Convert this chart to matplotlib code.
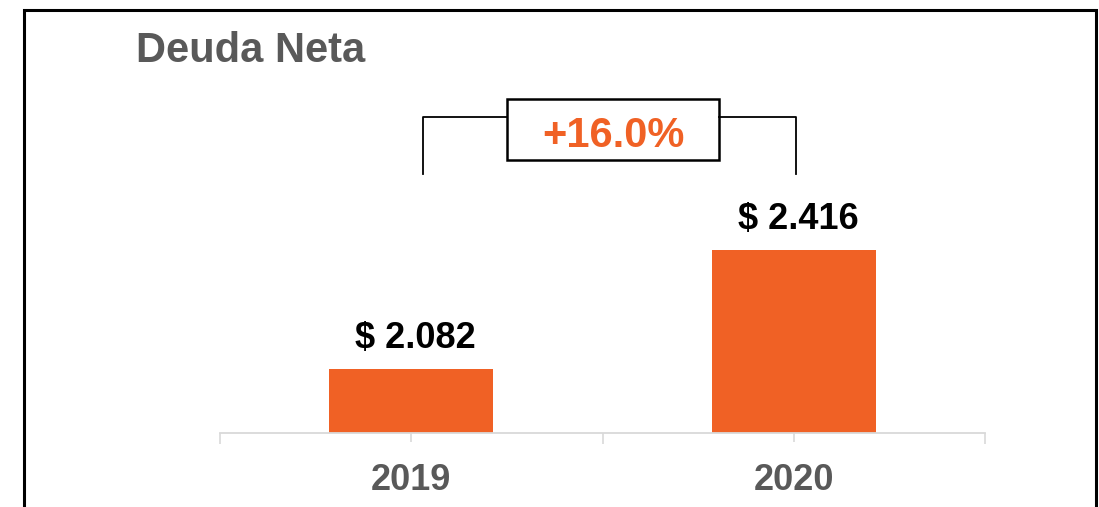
import matplotlib
matplotlib.use("Agg")
import matplotlib.pyplot as plt
from matplotlib.patches import Rectangle

plt.rcParams['font.family'] = ['Liberation Sans', 'DejaVu Sans']

# data
years = ['2019', '2020']
deuda = [2082, 2416]
value_labels = ['$ 2.082', '$ 2.416']
growth_label = '+16.0%'

orange = '#F06125'
gray = '#595959'
axis_gray = '#D9D9D9'

W, H = 1099, 507
fig = plt.figure(figsize=(W / 100, H / 100), dpi=100)

# axes placed by pixel box (left 220, right 985, baseline 433, top 90)
ax = fig.add_axes([220 / W, (H - 433) / H, 765 / W, (433 - 90) / H])
x = list(range(len(years)))
ax.bar(x, deuda, width=0.43, color=orange, zorder=2)
ax.set_xlim(-0.5, len(years) - 0.5)
ax.set_ylim(1902, 2865)

for i, v in enumerate(deuda):
    ax.annotate(value_labels[i], (i, v), xytext=(3, 15), textcoords='offset points',
                ha='center', va='baseline', fontsize=26, fontweight='bold', color='black')

# axis styling
for s in ['top', 'right', 'left']:
    ax.spines[s].set_visible(False)
ax.spines['bottom'].set_color(axis_gray)
ax.spines['bottom'].set_linewidth(1.3)
ax.set_yticks([])
ax.set_xticks(x)
ax.set_xticklabels(years, fontsize=26, fontweight='bold', color=gray)
ax.set_xticks([-0.5, 0.5, 1.5], minor=True)
ax.tick_params(axis='x', which='major', length=6.5, width=1.2, color=axis_gray, pad=15)
ax.tick_params(axis='x', which='minor', length=8, width=1.2, color=axis_gray)

# growth bracket
leg_l, leg_r = 0.03, 1.005
br_top, br_bot = 2790, 2630
box_x0, box_x1 = 0.25, 0.805
box_y0, box_y1 = 2669, 2839
ax.plot([leg_l, leg_l, box_x0], [br_bot, br_top, br_top], color='black', lw=1.3, clip_on=False)
ax.plot([box_x1, leg_r, leg_r], [br_top, br_top, br_bot], color='black', lw=1.3, clip_on=False)
ax.add_patch(Rectangle((box_x0, box_y0), box_x1 - box_x0, box_y1 - box_y0,
                       fill=False, edgecolor='black', lw=1.8, clip_on=False))
ax.text((box_x0 + box_x1) / 2, 2706, growth_label, ha='center', va='baseline',
        fontsize=30, fontweight='bold', color=orange)

# title
fig.text(136 / W, (H - 61.7) / H, 'Deuda Neta', ha='left', va='baseline',
         fontsize=30, fontweight='bold', color=gray)

# outer frame (bottom edge runs off the image)
fig.patches.append(Rectangle((23.5 / W, -0.1), (1096 - 23.5) / W, 1.1 - 9.5 / H,
                             transform=fig.transFigure, fill=False, edgecolor='black',
                             lw=2.2, clip_on=False))

fig.savefig('out.png', dpi=100)
